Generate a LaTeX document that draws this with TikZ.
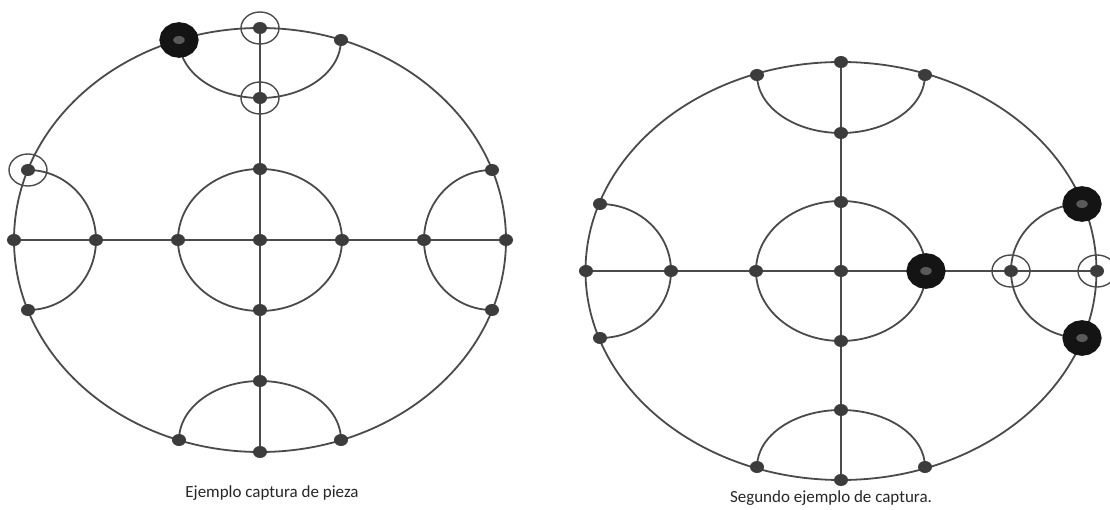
\documentclass[tikz,border=0pt]{standalone}
\usepackage{fontspec}
\setmainfont{Carlito}
\usetikzlibrary{shapes.geometric,backgrounds}

\definecolor{linegray}{HTML}{4A4A4A}
\definecolor{dotgray}{HTML}{3C3C3C}
\definecolor{centergray}{HTML}{5A5A5A}

\begin{document}
\begin{tikzpicture}[x=1pt,y=-1pt]
\tikzset{
  pt/.style={ellipse,fill=dotgray,minimum width=14pt,minimum height=12pt,inner sep=0pt},
  ring/.style={ellipse,draw=linegray,line width=1.4pt,minimum width=38pt,minimum height=32pt,inner sep=0pt},
  piece/.style={ellipse,draw=black!92,fill=centergray,line width=13.5pt,minimum width=25.5pt,minimum height=22pt,inner sep=0pt},
  board/.style={draw=linegray,line width=1.8pt},
  caption/.style={font=\fontsize{17}{19}\selectfont,text=black!85}
}
\useasboundingbox (0,0) rectangle (1110,510);
% first board
\node[pt] (a_h0) at (14,240) {};
\node[pt] (a_h1) at (96,240) {};
\node[pt] (a_h2) at (178,240) {};
\node[pt] (a_c) at (260,240) {};
\node[pt] (a_h4) at (342,240) {};
\node[pt] (a_h5) at (424,240) {};
\node[pt] (a_h6) at (506,240) {};
\node[pt] (a_v0) at (260,28) {};
\node[pt] (a_v1) at (260,98) {};
\node[pt] (a_v2) at (260,169) {};
\node[pt] (a_v4) at (260,310) {};
\node[pt] (a_v5) at (260,381) {};
\node[pt] (a_v6) at (260,452) {};
\node[pt] (a_tl) at (179,40) {};
\node[pt] (a_tr) at (341,40) {};
\node[pt] (a_bl) at (179,440) {};
\node[pt] (a_br) at (341,440) {};
\node[pt] (a_lt) at (28,170) {};
\node[pt] (a_lb) at (28,310) {};
\node[pt] (a_rt) at (492,170) {};
\node[pt] (a_rb) at (492,310) {};
% second board
\node[pt] (b_h0) at (586,271) {};
\node[pt] (b_h1) at (671,271) {};
\node[pt] (b_h2) at (756,271) {};
\node[pt] (b_c) at (841,271) {};
\node[pt] (b_h4) at (926,271) {};
\node[pt] (b_h5) at (1011,271) {};
\node[pt] (b_h6) at (1097,271) {};
\node[pt] (b_v0) at (841,62) {};
\node[pt] (b_v1) at (841,133) {};
\node[pt] (b_v2) at (841,202) {};
\node[pt] (b_v4) at (841,341) {};
\node[pt] (b_v5) at (841,410) {};
\node[pt] (b_v6) at (841,480) {};
\node[pt] (b_tl) at (757,75) {};
\node[pt] (b_tr) at (925,75) {};
\node[pt] (b_bl) at (757,467) {};
\node[pt] (b_br) at (925,467) {};
\node[pt] (b_lt) at (600,204) {};
\node[pt] (b_lb) at (600,338) {};
\node[pt] (b_rt) at (1082,204) {};
\node[pt] (b_rb) at (1082,338) {};
\begin{scope}[on background layer]
\draw[board] (a_c) ellipse [x radius=246,y radius=212];
\draw[board] (a_c) ellipse [x radius=82,y radius=71];
\draw[board] (a_h0) -- (a_h6);
\draw[board] (a_v0) -- (a_v6);
\draw[board] (a_tl.center) arc [start angle=180,end angle=0,x radius=81,y radius=58];
\draw[board] (a_bl.center) arc [start angle=180,end angle=360,x radius=81,y radius=59];
\draw[board] (a_lt.center) arc [start angle=-90,end angle=90,x radius=68,y radius=70];
\draw[board] (a_rt.center) arc [start angle=270,end angle=90,x radius=68,y radius=70];
\draw[board] (b_c) ellipse [x radius=255.5,y radius=209];
\draw[board] (b_c) ellipse [x radius=85,y radius=70];
\draw[board] (b_h0) -- (b_h6);
\draw[board] (b_v0) -- (b_v6);
\draw[board] (b_tl.center) arc [start angle=180,end angle=0,x radius=84,y radius=58];
\draw[board] (b_bl.center) arc [start angle=180,end angle=360,x radius=84,y radius=57];
\draw[board] (b_lt.center) arc [start angle=-90,end angle=90,x radius=71,y radius=67];
\draw[board] (b_rt.center) arc [start angle=270,end angle=90,x radius=71,y radius=67];
\end{scope}
% captured and capturing pieces
\node[piece] (a_p1) at (a_tl) {};
\node[ring] (a_r1) at (a_v0) {};
\node[ring] (a_r2) at (a_v1) {};
\node[ring] (a_r3) at (a_lt) {};
\node[piece] (b_p1) at (b_h4) {};
\node[piece] (b_p2) at (b_rt) {};
\node[piece] (b_p3) at (b_rb) {};
\node[ring] (b_r1) at (b_h5) {};
\node[ring] (b_r2) at (b_h6) {};
% captions
\node[caption] (a_cap) at (272,493) {Ejemplo captura de pieza};
\node[caption] (b_cap) at (831,498) {Segundo ejemplo de captura.};
\end{tikzpicture}
\end{document}
